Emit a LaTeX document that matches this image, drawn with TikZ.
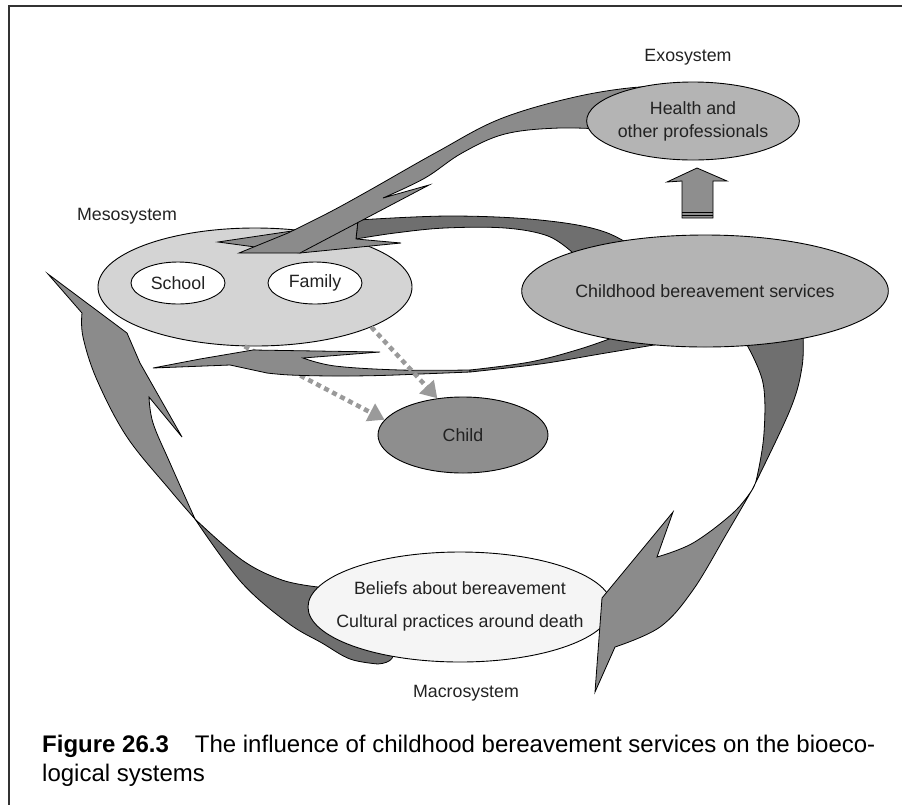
\documentclass[tikz,border=0pt]{standalone}
\usepackage{fontspec}
\setmainfont{Liberation Sans}
\usetikzlibrary{shapes.geometric,arrows.meta}

\definecolor{framegray}{HTML}{333333}
\definecolor{txt}{HTML}{222222}
\definecolor{mesofill}{HTML}{D4D4D4}
\definecolor{servfill}{HTML}{B4B4B4}
\definecolor{childfill}{HTML}{8E8E8E}
\definecolor{macrofill}{HTML}{F5F5F5}
\definecolor{headgray}{HTML}{8B8B8B}
\definecolor{tailgray}{HTML}{6F6F6F}
\definecolor{dashgray}{HTML}{9A9A9A}

\begin{document}
\begin{tikzpicture}[x=1pt,y=-1pt,
  lbl/.style={font=\fontsize{17.8}{23}\selectfont, text=txt},
  sys/.style={ellipse, draw=black, line width=0.9pt, inner sep=0pt, lbl},
  headpart/.style={fill=headgray, draw=black, line width=0.8pt, line join=miter},
  tailpart/.style={fill=tailgray, draw=black, line width=0.8pt, line join=miter},
  dasharrow/.style={draw=dashgray, line width=4.5pt, dash pattern=on 5pt off 4pt,
                    -{Triangle[length=16pt,width=19pt]}},
  caption/.style={font=\fontsize{24}{29}\selectfont, anchor=base west, inner sep=0pt, text=black},
]
\useasboundingbox (0,0) rectangle (902,804);

% outer frame
\draw[framegray, line width=1.8pt] (9,812) -- (9,6) -- (910,6);

% mesosystem with its two settings
\node[sys, fill=mesofill, minimum width=314pt, minimum height=118pt] (meso) at (255,287) {};
\node[sys, fill=white, minimum width=94pt, minimum height=42pt] (school) at (178,283) {School};
\node[sys, fill=white, minimum width=94pt, minimum height=42pt] (family) at (315,283) {Family};

% child node (placed early so the dashed links can refer to it)
\node[sys, fill=childfill, minimum width=170pt, minimum height=76pt] (child) at (463,435) {Child};

% dashed link from the mesosystem to the child, partly under the lower arrow
\draw[dasharrow] (meso.-100) -- (child.169);

% upper arrow: services -> mesosystem (tail, then head)
\filldraw[tailpart] (358,220)
  -- plot[smooth, tension=0.6] coordinates {(358,220) (450,216) (540,220) (605,232) (650,258)}
  -- (620,275) -- (573,253)
  -- plot[smooth, tension=0.6] coordinates {(573,253) (548,236) (505,228) (445,228) (395,233) (356,239)}
  -- cycle;
\filldraw[headpart] (218,242) -- (292,231) -- (358,220) -- (356,239)
  -- (401,243) -- (300,253) -- cycle;

% arrow from the exosystem down to the mesosystem
\filldraw[headpart] (239,253)
  -- plot[smooth, tension=0.6] coordinates {(288,233) (330,212) (370,190) (437,152) (500,119) (575,97) (640,87) (675,90)}
  -- (662,125) -- (618,130)
  -- plot[smooth, tension=0.6] coordinates {(618,130) (560,128) (505,134) (462,153) (425,178) (383,198)}
  -- (429,185) -- (300,253) -- cycle;

% lower arrow: services -> mesosystem (head part, then twisted tail)
\filldraw[headpart] (153,368) -- (200,359) -- (253,350) -- (380,352) -- (303,358)
  -- plot[smooth, tension=0.6] coordinates {(303,358) (335,366) (400,370) (470,370)}
  -- plot[smooth, tension=0.6] coordinates {(470,372) (433,373.5) (380,375.5) (333,376) (290,375) (267,373)}
  -- (230,365) -- cycle;
\filldraw[tailpart] (470,370)
  -- plot[smooth, tension=0.6] coordinates {(470,370) (530,362) (580,349) (620,335)}
  -- (650,320) -- (660,344)
  -- plot[smooth, tension=0.6] coordinates {(660,344) (600,354) (540,364) (470,372)}
  -- cycle;

% left arrow: macrosystem -> mesosystem
\filldraw[headpart] (48,274) -- (82,313)
  -- plot[smooth, tension=0.6] coordinates {(82,313) (83,337) (97,380) (127,437) (170,490) (195,519)}
  -- plot[smooth, tension=0.6] coordinates {(195,519) (170,463) (153,423) (149,397)}
  -- (182,437) -- (140,363) -- (127,333) -- cycle;
\filldraw[tailpart] (195,519)
  -- plot[smooth, tension=0.6] coordinates {(195,519) (242,560) (282,580) (318,587)}
  -- (360,620) -- (392,648)
  .. controls (396,656) and (392,663) .. (378,664)
  -- plot[smooth, tension=0.6] coordinates {(378,664) (350,659) (322,643) (288,623) (242,583) (199,525)}
  -- cycle;

% dashed link from the mesosystem to the child, drawn over the lower arrow
\draw[dasharrow] (meso.-19) -- (child.125);

% exosystem and macrosystem nodes
\node[sys, fill=servfill, minimum width=166pt, minimum height=78pt, align=center] (health) at (693,121)
  {Health and\\other professionals};
\node[sys, fill=macrofill, minimum width=304pt, minimum height=110pt] (macro) at (460,607) {};
\node[lbl, anchor=base] (beliefs) at (460,594) {Beliefs about bereavement};
\node[lbl, anchor=base] (practices) at (460,627) {Cultural practices around death};

% right arrow: services -> macrosystem
\filldraw[tailpart] (747,345)
  -- plot[smooth, tension=0.6] coordinates {(747,345) (763,383) (764,433) (757,477) (752,490)}
  -- plot[smooth, tension=0.6] coordinates {(752,490) (790,410) (802,367) (803,335)}
  -- (775,320) -- cycle;
\filldraw[headpart] (752,490)
  -- plot[smooth, tension=0.6] coordinates {(752,490) (727,533) (693,590) (660,627) (615,647)}
  -- (595,692) -- (602,598) -- (673,512) -- (657,557)
  -- plot[smooth, tension=0.6] coordinates {(657,557) (693,543) (733,513) (752,490)}
  -- cycle;

% childhood bereavement services
\node[sys, fill=servfill, minimum width=314pt, minimum height=112pt] (services) at (705,291)
  {Childhood bereavement services};

% block arrow from services up to the exosystem
\filldraw[fill=childfill, draw=black, line width=0.8pt] (697,168) -- (727,181) -- (713,181)
  -- (713,218) -- (682,218) -- (682,181) -- (667,182) -- cycle;
\draw[black, line width=0.8pt] (682,212) -- (713,212);
\draw[black, line width=0.8pt] (682,215) -- (713,215);

% system labels
\node[lbl] (exolabel) at (688,57) {Exosystem};
\node[lbl] (mesolabel) at (127,216) {Mesosystem};
\node[lbl] (macrolabel) at (466,693) {Macrosystem};

% caption
\node[caption] (cap1) at (42,752) {\textbf{Figure 26.3}\hspace{26pt}The influence of childhood bereavement services on the bioeco-};
\node[caption] (cap2) at (42,781) {logical systems};
\end{tikzpicture}
\end{document}
